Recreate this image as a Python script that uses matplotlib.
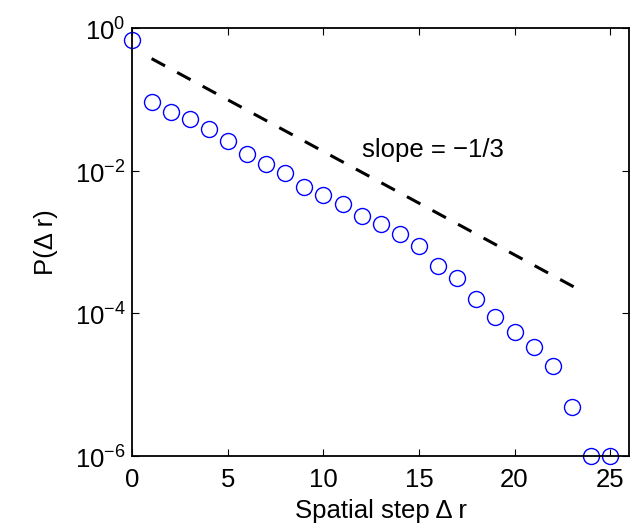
import numpy as np
import matplotlib
matplotlib.use("Agg")
import matplotlib.pyplot as plt

plt.rcParams['font.family'] = ['Liberation Sans', 'DejaVu Sans']
plt.rcParams['mathtext.fontset'] = 'custom'
plt.rcParams['mathtext.rm'] = 'Liberation Sans'

# Step-length distribution
steps = np.arange(0, 26)
prob = [0.67, 0.093, 0.066, 0.053, 0.038, 0.026, 0.017, 0.0126, 0.0093,
        0.0060, 0.0046, 0.0034, 0.0023, 0.0018, 0.0013, 8.7e-4, 4.6e-4,
        3.1e-4, 1.6e-4, 9.0e-5, 5.5e-5, 3.4e-5, 1.85e-5, 4.9e-6, 1.0e-6, 1.0e-6]

# Reference exponential decay, P ~ A exp(-dr/3)
ref_amp = 0.52
ref_rate = 1.0 / 3.0
ref_range = [1.0, 23.3]

x_ticks = [0, 5, 10, 15, 20, 25]
y_ticks = [1e-6, 1e-4, 1e-2, 1e0]
y_tick_labels = [r'$10^{-6}$', r'$10^{-4}$', r'$10^{-2}$', r'$10^{0}$']

FS = 18.5

fig = plt.figure(figsize=(6.4, 5.29), dpi=100)
ax = fig.add_axes([0.207, 0.138, 0.776, 0.809])

xr = np.linspace(ref_range[0], ref_range[1], 200)
ax.plot(xr, ref_amp * np.exp(-ref_rate * xr), color='black', lw=2.2,
        dashes=(5, 4.5))

ax.plot(steps, prob, linestyle='none', marker='o', markersize=11.5,
        markerfacecolor='none', markeredgecolor='#0000ff', markeredgewidth=1.0,
        clip_on=False)

ax.text(12.0, 0.0195, 'slope = \u22121/3', fontsize=FS, va='center', ha='left')

ax.set_yscale('log')
ax.set_xlim(0, 26)
ax.set_ylim(1e-6, 1)
ax.set_xticks(x_ticks)
ax.set_xticklabels([str(t) for t in x_ticks])
ax.set_yticks(y_ticks)
ax.set_yticklabels(y_tick_labels)
ax.yaxis.set_minor_locator(matplotlib.ticker.NullLocator())
ax.tick_params(which='both', direction='in', top=True, right=True,
               length=5, width=0.8, labelsize=FS)
ax.tick_params(axis='y', pad=5)
ax.tick_params(axis='x', pad=9)
for s in ax.spines.values():
    s.set_linewidth(1.3)

ax.set_xlabel('Spatial step \u0394 r', fontsize=FS, labelpad=5)
ax.set_ylabel('P(\u0394 r)', fontsize=FS, labelpad=12)

fig.savefig('out.png', dpi=100)
